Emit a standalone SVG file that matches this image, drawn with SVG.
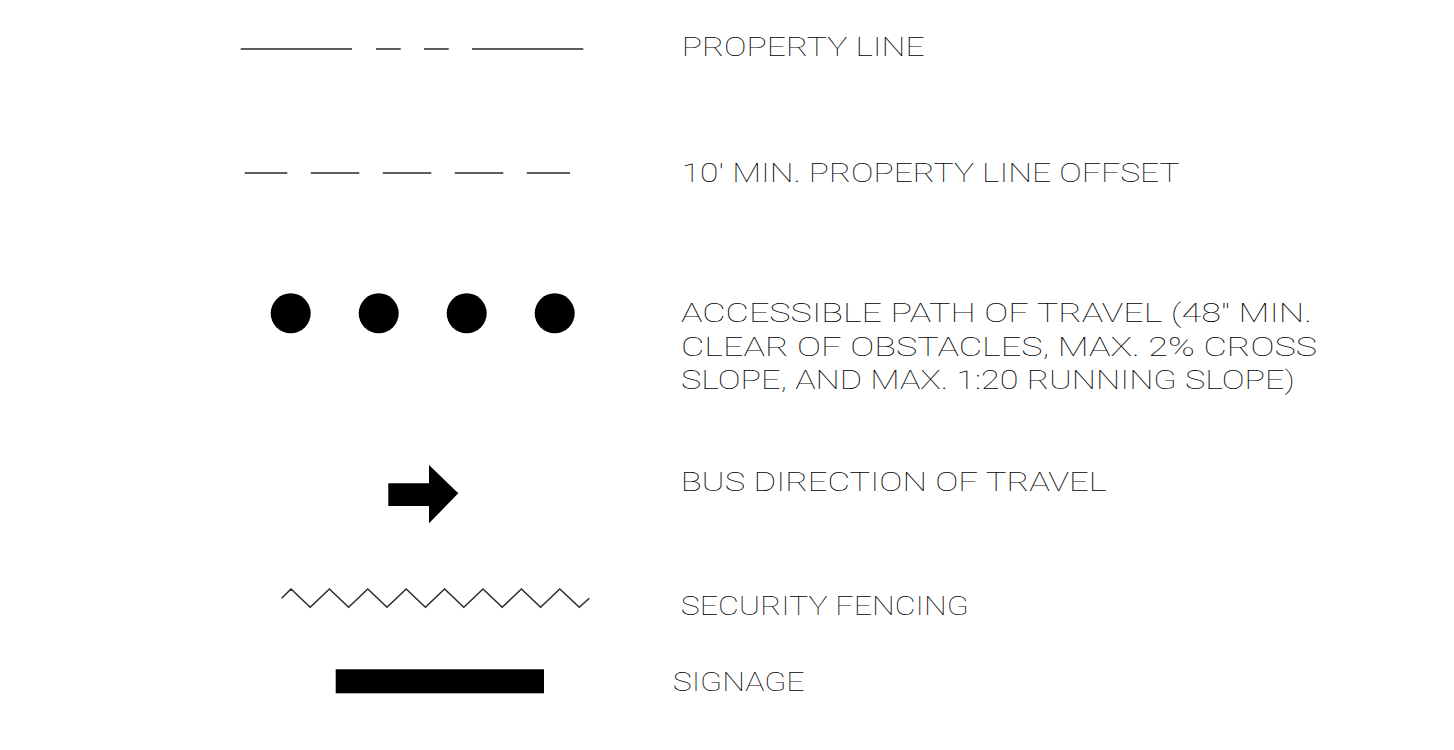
<svg xmlns="http://www.w3.org/2000/svg" width="1454" height="750" viewBox="0 0 1454 750">
<style>
.ln{stroke:#2a2a2a;stroke-width:1.5;fill:none}
.lbl{font-family:Roboto,"Liberation Sans",sans-serif;font-weight:100;font-size:25px;fill:#000}
</style>
<rect width="1454" height="750" fill="#fff"/>
<g id="property-line">
<path class="ln" d="M240.7 49H352M376 49H400.7M424 49H448.7M472 49H583.3"/>
<text class="lbl" x="681.7" y="55.7" textLength="243" lengthAdjust="spacingAndGlyphs">PROPERTY LINE</text>
</g>
<g id="offset-line">
<path class="ln" d="M244.7 173H287.3M310.7 173H359.3M382.7 173H431.3M454.7 173H503.3M526.7 173H570"/>
<text class="lbl" x="681.7" y="181.5" textLength="498" lengthAdjust="spacingAndGlyphs">10' MIN. PROPERTY LINE OFFSET</text>
</g>
<g id="accessible-path">
<circle cx="290.7" cy="313.3" r="20"/>
<circle cx="378.7" cy="313.3" r="20"/>
<circle cx="466.7" cy="313.3" r="20"/>
<circle cx="554.7" cy="313.3" r="20"/>
<text class="lbl" x="681" y="322" textLength="631" lengthAdjust="spacingAndGlyphs">ACCESSIBLE PATH OF TRAVEL (48" MIN.</text>
<text class="lbl" x="681" y="355.7" textLength="636" lengthAdjust="spacingAndGlyphs">CLEAR OF OBSTACLES, MAX. 2% CROSS</text>
<text class="lbl" x="681" y="389.3" textLength="614" lengthAdjust="spacingAndGlyphs">SLOPE, AND MAX. 1:20 RUNNING SLOPE)</text>
</g>
<g id="bus-direction">
<polygon points="388.3,483.3 429,483.3 429,465 458.3,493.3 429,523.3 429,506 388.3,506"/>
<text class="lbl" x="680.7" y="491" textLength="426" lengthAdjust="spacingAndGlyphs">BUS DIRECTION OF TRAVEL</text>
</g>
<g id="security-fencing">
<polyline class="ln" points="281.7,598.3 291,589 310.2,607.3 329.4,589 348.6,607.3 367.8,589 387,607.3 406.2,589 425.4,607.3 444.6,589 463.8,607.3 483,589 502.2,607.3 521.4,589 540.6,607.3 559.8,589 579.3,607.3 589.3,598.3"/>
<text class="lbl" x="680.7" y="615" textLength="288" lengthAdjust="spacingAndGlyphs">SECURITY FENCING</text>
</g>
<g id="signage">
<rect x="335.7" y="669.3" width="208.3" height="24"/>
<text class="lbl" x="672.7" y="691" textLength="132" lengthAdjust="spacingAndGlyphs">SIGNAGE</text>
</g>
<g id="connectors"></g>
</svg>
